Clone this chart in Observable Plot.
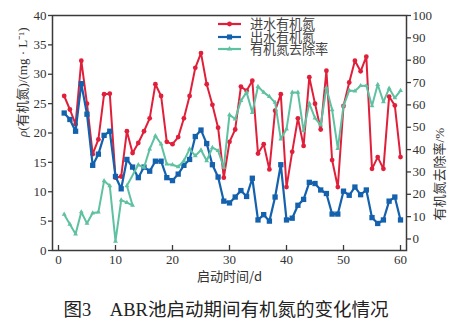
<!DOCTYPE html>
<html><head><meta charset="utf-8">
<script src="https://cdn.jsdelivr.net/npm/d3@7"></script>
<script src="https://cdn.jsdelivr.net/npm/@observablehq/plot@0.6"></script>
<style>
@font-face{font-family:"LegendCJK";src:local("Noto Sans CJK SC"),local("Noto Sans CJK SC Regular"),local("NotoSansCJKsc-Regular"),local("NotoSansCJKSC-Regular");ascent-override:86%;descent-override:8%;line-gap-override:0%;}
body{margin:0;background:#fff;}
#wrap{position:relative;width:461px;height:329px;overflow:hidden;}
#caption{position:absolute;left:0;top:297px;width:452px;text-align:center;font-size:18.5px;font-family:"Liberation Serif","Noto Sans CJK SC",serif;line-height:26px;color:#222;white-space:pre;}
.lg{position:absolute;left:217px;height:12px;display:flex;align-items:center;font-size:13.2px;line-height:12px;font-family:"LegendCJK","Noto Sans CJK SC",sans-serif;color:#444;white-space:nowrap;}
.lg span{line-height:12px;height:12px;display:inline-block;}
.lg svg{margin-right:8px;}
</style></head><body>
<div id="wrap"><div id="chart"></div><div id="legend"></div><div id="caption">图3　ABR池启动期间有机氮的变化情况</div></div>
<script>
// ---- data ----
const days = d3.range(1, 61);
const influent = [26.3,24.0,21.5,32.3,25.0,16.4,18.9,26.6,26.7,12.4,
                  12.6,20.3,16.6,18.3,20.3,22.5,28.3,26.3,18.5,18.1,
                  19.3,22.5,26.3,31.1,33.6,28.3,24.8,20.9,12.4,18.5,
                  20.6,27.9,27.2,28.9,16.5,18.1,13.8,23.8,26.6,10.8,
                  16.8,22.5,17.8,29.5,25.0,20.6,30.6,15.4,10.8,24.6,
                  28.6,32.3,30.5,33.0,13.9,15.9,13.9,26.2,24.7,15.9];
const effluent = [23.4,22.3,20.3,28.4,23.2,14.5,16.4,19.6,20.3,12.6,
                  10.5,15.5,14.2,12.4,14.2,13.5,15.2,15.2,12.4,11.9,
                  13.0,14.5,15.5,19.4,20.5,18.2,14.6,12.5,8.4,8.1,
                  9.1,10.2,9.2,12.3,5.2,6.1,5.0,9.1,14.6,5.2,
                  5.5,7.7,8.7,11.6,11.4,10.3,9.7,6.2,6.2,10.1,
                  9.4,10.8,9.5,10.3,5.6,4.6,5.2,8.4,9.1,5.2];
const removalDays = [1,2,3,4,5,6,7,8,9,10,11,12,13,12,14,15,16,17,18,19,20,
                     21,22,23,24,25,26,27,28,29,30,31,32,33,34,35,36,37,38,39,40,
                     41,42,43,44,45,46,47,48,49,50,51,52,53,54,55,56,57,58,59,60];
const removalRates = [11.0,6.6,2.2,12.1,7.0,11.6,12.0,26.0,23.8,-1.0,17.4,16.3,15.0,23.8,33.2,32.0,40.2,46.2,42.5,33.5,33.2,
                      32.3,35.0,40.2,37.2,39.8,35.0,40.9,39.5,32.0,55.6,53.7,61.9,65.6,56.6,68.2,65.6,63.7,61.1,44.7,49.2,
                      65.6,65.6,48.4,60.7,54.1,51.0,67.6,57.8,40.5,59.6,66.4,66.2,68.6,68.6,59.6,69.1,61.4,67.4,63.1,66.4];
const xTicks = [0,10,20,30,40,50,60];
const leftTicks = [0,5,10,15,20,25,30,35,40];
const rightTicks = [0,10,20,30,40,50,60,70,80,90,100];
const seriesNames = ["进水有机氮","出水有机氮","有机氮去除率"];
const colors = ["#e0203a","#1461ad","#5fc1a2"];

// right axis (%) mapped onto left scale
const rMin = -5.15, rMax = 100, lMax = 40;
const toL = r => lMax * (r - rMin) / (rMax - rMin);
const fromL = v => v / lMax * (rMax - rMin) + rMin;

const inf = days.map((d, i) => ({d, v: influent[i]}));
const eff = days.map((d, i) => ({d, v: effluent[i]}));
const rem = removalDays.map((d, i) => ({d, v: toL(removalRates[i])}));

const axisColor = "#3a3a3a";
const chart = Plot.plot({
  width: 461, height: 292,
  marginLeft: 52, marginRight: 55, marginTop: 15, marginBottom: 42,
  x: {domain: [-1.05, 61.05], label: null},
  y: {domain: [0, 40], label: null},
  style: {fontFamily: '"Liberation Serif","Noto Sans CJK SC",serif', fontSize: "13px", color: "#333", background: "#fff"},
  marks: [
    Plot.axisY(leftTicks, {anchor: "left", tickSize: 4, tickPadding: 2, stroke: axisColor, strokeWidth: 1.3, label: null, fontSize: 13}),
    Plot.axisY(rightTicks.map(toL), {anchor: "right", tickSize: 4, tickPadding: 2, stroke: axisColor, strokeWidth: 1.3, label: null, fontSize: 13,
      tickFormat: d => String(Math.round(fromL(d)))}),
    Plot.axisX(xTicks, {anchor: "bottom", tickSize: 0, tickPadding: 4, label: null, fontSize: 13}),
    Plot.ruleX(xTicks, {y1: 0, y2: 0.85, stroke: axisColor, strokeWidth: 1.3}),
    Plot.frame({stroke: axisColor, strokeWidth: 1.5}),
    Plot.line(inf, {x: "d", y: "v", stroke: colors[0], strokeWidth: 2}),
    Plot.dot(inf, {x: "d", y: "v", r: 2.4, fill: colors[0], stroke: null}),
    Plot.line(eff, {x: "d", y: "v", stroke: colors[1], strokeWidth: 2.2}),
    Plot.dot(eff, {x: "d", y: "v", r: 3, symbol: "square", fill: colors[1], stroke: null}),
    Plot.line(rem, {x: "d", y: "v", stroke: colors[2], strokeWidth: 2}),
    Plot.dot(rem, {x: "d", y: "v", r: 1.8, symbol: "triangle", fill: colors[2], stroke: null}),
    Plot.text(["启动时间/d"], {frameAnchor: "bottom", dy: 30, fontSize: 13, fill: "#333", fontFamily: '"Noto Sans CJK SC",sans-serif'}),
    Plot.text(["ρ(有机氮)/(mg · L⁻¹)"], {frameAnchor: "left", dx: -30, dy: 4, rotate: -90, fontSize: 13, fill: "#333"}),
    Plot.text(["有机氮去除率/%"], {frameAnchor: "right", dx: 33, dy: -5, rotate: -90, fontSize: 13, fill: "#333"})
  ]
});
document.getElementById("chart").appendChild(chart);

// italic rho in the left axis title
d3.select(chart).selectAll("text").each(function() {
  const t = this.textContent;
  if (t.startsWith("ρ(")) {
    const el = d3.select(this);
    el.text(null);
    el.append("tspan").attr("font-style", "italic").text("ρ");
    el.append("tspan").text(t.slice(1));
  }
});

// legend
const legend = d3.select("#legend");
const rowY = [24, 36.7, 49.4];
seriesNames.forEach((name, i) => {
  const row = legend.append("div").attr("class", "lg").style("top", (rowY[i] - 6) + "px");
  const s = row.append("svg").attr("width", 25).attr("height", 12);
  s.append("line").attr("x1", 1).attr("x2", 24).attr("y1", 6).attr("y2", 6)
    .attr("stroke", colors[i]).attr("stroke-width", 2.2);
  const sym = d3.symbol().type(i === 0 ? d3.symbolCircle : i === 1 ? d3.symbolSquare : d3.symbolTriangle)
    .size(i === 0 ? 18 : i === 1 ? 26 : 12);
  s.append("path").attr("d", sym()).attr("transform", "translate(12.5,6)").attr("fill", colors[i]);
  row.append("span").text(name);
});
</script>
</body></html>
